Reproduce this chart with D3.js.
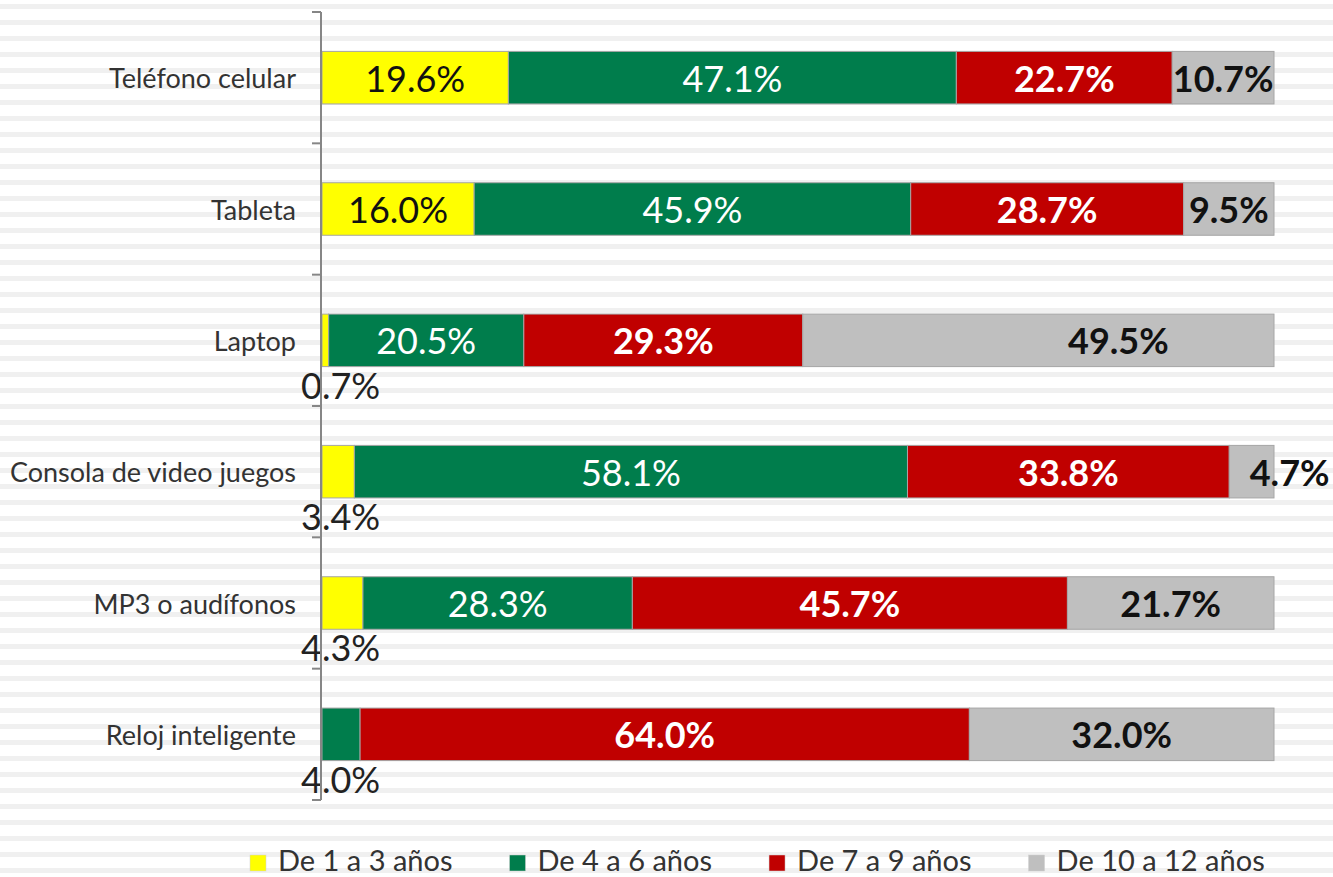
<!DOCTYPE html>
<html>
<head>
<meta charset="utf-8">
<script src="https://cdn.jsdelivr.net/npm/d3@7"></script>
<style>
  body { margin: 0; background: #fff; }
  svg text { font-family: Lato, "Open Sans", sans-serif; }
</style>
</head>
<body>
<svg id="chart" width="1333" height="877"></svg>
<script>
// categories (top to bottom) and the four series, in percent
const categories = ["Teléfono celular", "Tableta", "Laptop", "Consola de video juegos", "MP3 o audífonos", "Reloj inteligente"];
const seriesNames = ["De 1 a 3 años", "De 4 a 6 años", "De 7 a 9 años", "De 10 a 12 años"];
const de1a3 = [19.6, 16.0, 0.7, 3.4, 4.3, 0];
const de4a6 = [47.1, 45.9, 20.5, 58.1, 28.3, 4.0];
const de7a9 = [22.7, 28.7, 29.3, 33.8, 45.7, 64.0];
const de10a12 = [10.7, 9.5, 49.5, 4.7, 21.7, 32.0];

const seriesValues = [de1a3, de4a6, de7a9, de10a12];
const colors = ["#FFFF00", "#007D4C", "#C00000", "#BFBFBF"];
const labelColors = ["#111", "#fff", "#fff", "#111"];
const labelWeights = [400, 400, 700, 700];
// hand moved labels, as in the original (pixels to the right)
const labelNudge = { "Laptop|3": 80, "Consola de video juegos|3": 38 };

const svg = d3.select("#chart");
const W = 1333, H = 877;

// striped background
const defs = svg.append("defs");
defs.append("pattern")
    .attr("id", "stripes")
    .attr("patternUnits", "userSpaceOnUse")
    .attr("width", 16).attr("height", 16)
  .append("rect")
    .attr("y", 4).attr("width", 16).attr("height", 5)
    .attr("fill", "#f0f0f0");
svg.append("rect").attr("width", W).attr("height", H).attr("fill", "url(#stripes)");

const x = d3.scaleLinear().domain([0, 100]).range([322, 1274]);
const y = d3.scaleBand().domain(categories).range([12, 800]);
const barH = y.bandwidth() * 0.4;
const barOff = (y.bandwidth() - barH) / 2;

// rows of stacked segments, normalised to 100%
const rows = categories.map((c, i) => {
    const vals = seriesValues.map(s => s[i]);
    const total = d3.sum(vals);
    let acc = 0;
    return vals.map((v, k) => {
        const seg = { cat: c, k, v, x0: acc / total * 100, x1: (acc + v) / total * 100 };
        acc += v;
        return seg;
    });
});
const segs = rows.flat().filter(d => d.v > 0);

svg.append("g")
    .selectAll("rect")
    .data(segs)
    .join("rect")
        .attr("x", d => x(d.x0))
        .attr("y", d => y(d.cat) + barOff)
        .attr("width", d => x(d.x1) - x(d.x0))
        .attr("height", barH)
        .attr("fill", d => colors[d.k])
        .attr("stroke", "#a6a6a6")
        .attr("stroke-width", 1);

// data labels
svg.append("g")
    .selectAll("text")
    .data(segs)
    .join("text")
        .each(function(d) {
            const below = d.v < 5 && d.x0 === 0;
            const t = d3.select(this);
            if (below) {
                t.attr("x", x(0) - 21)
                 .attr("y", y(d.cat) + barOff + barH + 18)
                 .attr("text-anchor", "start")
                 .attr("fill", "#222")
                 .attr("font-weight", 400);
            } else {
                t.attr("x", (x(d.x0) + x(d.x1)) / 2 + (labelNudge[d.cat + "|" + d.k] || 0))
                 .attr("y", y(d.cat) + barOff + barH / 2)
                 .attr("text-anchor", "middle")
                 .attr("fill", labelColors[d.k])
                 .attr("font-weight", labelWeights[d.k]);
            }
        })
        .attr("dominant-baseline", "central")
        .attr("font-size", 36)
        .text(d => d.v.toFixed(1) + "%");

// category axis
const axis = svg.append("g").attr("stroke", "#868686").attr("stroke-width", 2);
axis.append("line")
    .attr("x1", 321).attr("x2", 321)
    .attr("y1", y.range()[0]).attr("y2", y.range()[1]);
axis.selectAll(".tick")
    .data(categories.map(c => y(c)).concat([y.range()[1]]))
    .join("line")
        .attr("class", "tick")
        .attr("x1", 312).attr("x2", 321)
        .attr("y1", d => d).attr("y2", d => d);

svg.append("g")
    .selectAll("text")
    .data(categories)
    .join("text")
        .attr("x", 296)
        .attr("y", d => y(d) + y.bandwidth() / 2)
        .attr("text-anchor", "end")
        .attr("dominant-baseline", "central")
        .attr("font-size", 27)
        .attr("fill", "#333")
        .text(d => d);

// legend
const legend = svg.append("g");
let lx = 250;
seriesNames.forEach((name, k) => {
    legend.append("rect")
        .attr("x", lx).attr("y", 855)
        .attr("width", 16).attr("height", 16)
        .attr("fill", colors[k])
        .attr("stroke", "#d0d0d0").attr("stroke-width", 0.5);
    const t = legend.append("text")
        .attr("x", lx + 28).attr("y", 871)
        .attr("font-size", 29)
        .attr("fill", "#333")
        .text(name);
    lx += 28 + t.node().getComputedTextLength() + 57;
});
</script>
</body>
</html>
